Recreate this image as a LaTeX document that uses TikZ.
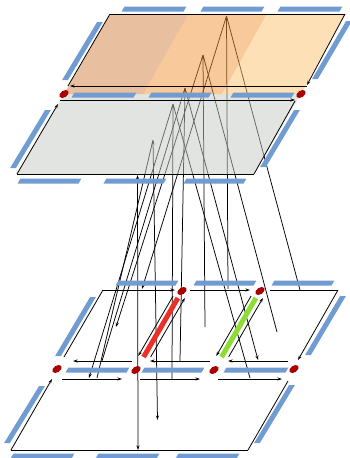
\documentclass[tikz,border=0pt]{standalone}
\usetikzlibrary{arrows.meta}
\definecolor{barblue}{RGB}{112,156,210}
\definecolor{orA}{RGB}{209,129,65}
\definecolor{orB}{RGB}{241,147,53}
\definecolor{orC}{RGB}{251,193,109}
\definecolor{grayC}{RGB}{197,201,197}
\definecolor{dotred}{RGB}{170,0,0}
\definecolor{redbar}{RGB}{236,48,40}
\definecolor{greenbar}{RGB}{140,222,52}
\newcommand\HBar[3]{\fill[barblue] ({#1+1.45},{#3-2.5}) -- ({#2+1.45},{#3-2.5}) -- ({#2-1.45},{#3+2.5}) -- ({#1-1.45},{#3+2.5}) -- cycle;}
\newcommand\SBar[4]{\fill[barblue] ({#1-2.9},#2) -- ({#1+2.9},#2) -- ({#3+2.9},#4) -- ({#3-2.9},#4) -- cycle;}
\newcommand\Dot[2]{\fill[dotred, rotate around={35:(#1,#2)}] (#1,#2) ellipse (5.2 and 3.3);}
\begin{document}
\begin{tikzpicture}[x=1pt,y=-1pt,
  conn/.style={line width=0.75pt, black},
  edge/.style={line width=0.8pt, black},
  tipend/.style={-{Stealth[length=4.5pt,width=3pt]}},
  tipstart/.style={{Stealth[length=4.5pt,width=3pt]}-},
  tipboth/.style={{Stealth[length=4.5pt,width=3pt]}-{Stealth[length=4.5pt,width=3pt]}},
  plane/.style={fill opacity=0.5}]
\useasboundingbox (0,0) rectangle (350,458);

% apexes
\coordinate (A1) at (226.5,16);
\coordinate (A2) at (203,55);
\coordinate (A3) at (185,88);
\coordinate (A4) at (173,104);
\coordinate (A5) at (153,140);
\coordinate (A6) at (137.5,175);
% lower ends
\coordinate (e1v) at (228,289);
\coordinate (e1l) at (142,289);
\coordinate (e1r) at (300,290);
\coordinate (e2v) at (205,327);
\coordinate (e2l) at (116,327);
\coordinate (e2r) at (277,332);
\coordinate (e3v) at (180,361);
\coordinate (e3l) at (102,361);
\coordinate (e3r) at (258,360);
\coordinate (e4v) at (172,379);
\coordinate (e4l) at (89,378);
\coordinate (e4r) at (250,378);
\coordinate (e5v) at (157.5,420);
\coordinate (e5l) at (97,378);
\coordinate (e6v) at (138,450);

% connectors
\draw[conn,tipstart] (A1) -- (e1v);
\draw[conn,tipend] (A1) -- (e1l);
\draw[conn] (A1) -- (e1r);
\draw[conn,tipstart] (A2) -- (e2v);
\draw[conn,tipend] (A2) -- (e2l);
\draw[conn] (A2) -- (e2r);
\draw[conn,tipstart] (A3) -- (e3v);
\draw[conn] (A3) -- (e3l);
\draw[conn,tipend] (A3) -- (e3r);
\draw[conn,tipstart] (A4) -- (e4v);
\draw[conn,tipend] (A4) -- (e4l);
\draw[conn] (A4) -- (e4r);
\draw[conn,tipboth] (A5) -- (e5v);
\draw[conn] (A5) -- (e5l);
\draw[conn,tipboth] (A6) -- (e6v);

% upper planes (translucent)
\fill[orA,plane] (110,14) -- (188.3,14) -- (143,94) -- (64,94) -- cycle;
\fill[orB,plane] (188.3,14) -- (266.7,14) -- (222,94) -- (143,94) -- cycle;
\fill[orC,plane] (266.7,14) -- (345,14) -- (301,94) -- (222,94) -- cycle;
\fill[grayC,plane] (64,94) -- (301,94) -- (254,174) -- (17,174) -- cycle;

% upper plane edges
\coordinate (oTL) at (110,14);
\coordinate (oTR) at (345,14);
\draw[edge] (oTL) -- (oTR);
\draw[edge] (oTL) -- (68,86);
\draw[edge,tipend] (oTR) -- (307,85);
\draw[edge,tipend] (307,86) -- (70,86);
\draw[edge,tipend] (60,100) -- (295,100);
\draw[edge,tipend] (17,174) -- (58,104);
\draw[edge] (295,101) -- (254,174);
\draw[edge] (17,174) -- (254,174);

% lower plane edges
\draw[edge,tipend] (103,290) -- (175,290);
\draw[edge,tipend] (190,290) -- (250,290);
\draw[edge] (270,290) -- (338,290);
\draw[edge] (103,290) -- (64,357);
\draw[edge,tipend] (338,290) -- (298,360);
\draw[edge,tipend] (132,361) -- (73,361);
\draw[edge,tipend] (210,361) -- (150,361);
\draw[edge,tipend] (288,361) -- (228,361);
\draw[edge,tipend] (62,379) -- (122,379);
\draw[edge,tipend] (140,379) -- (200,379);
\draw[edge,tipend] (218,379) -- (282,379);
\draw[edge,tipend] (11,450) -- (52,379);
\draw[edge] (288,381) -- (248,450);
\draw[edge] (11,450) -- (248,450);

% red and green bars with flanking arrows
\draw[redbar,line width=5pt] (177.9,298) -- (143.6,357);
\draw[greenbar,line width=5pt] (255.9,298) -- (221.6,357);
\draw[edge,tipend] (173.1,296) -- (138.2,356);
\draw[edge,tipend] (150.6,357) -- (184.9,298);
\draw[edge,tipend] (251.1,296) -- (216.2,356);
\draw[edge,tipend] (228.6,357) -- (262.9,298);

% blue bars: orange plane
\HBar{123}{185}{9}
\HBar{202}{263}{9}
\HBar{279}{341}{9}
\SBar{100}{22}{65}{80}
\SBar{349}{21}{315}{79}
\HBar{73}{135}{95}
\HBar{150}{210}{95}
\HBar{232}{293}{95}
% gray plane
\SBar{48}{110}{13}{168}
\SBar{297}{110}{263}{167}
\HBar{19}{80}{181}
\HBar{105}{165}{181}
\HBar{185}{245}{181}
% lower plane
\HBar{117}{177}{283}
\HBar{195}{255}{283}
\HBar{273}{333}{283}
\SBar{93}{297}{58}{356}
\SBar{343}{296}{308}{355}
\HBar{67}{128}{370}
\HBar{143}{203}{370}
\HBar{225}{287}{370}
\SBar{42}{386}{7}{443}
\SBar{292}{385}{257}{443}
\HBar{12}{73}{456}
\HBar{97}{158}{456}
\HBar{177}{238}{456}

% red vertices
\Dot{64}{94}
\Dot{301}{94}
\Dot{182}{291}
\Dot{260}{291}
\Dot{57}{369}
\Dot{136}{370}
\Dot{214}{370}
\Dot{294}{369}
\end{tikzpicture}
\end{document}
